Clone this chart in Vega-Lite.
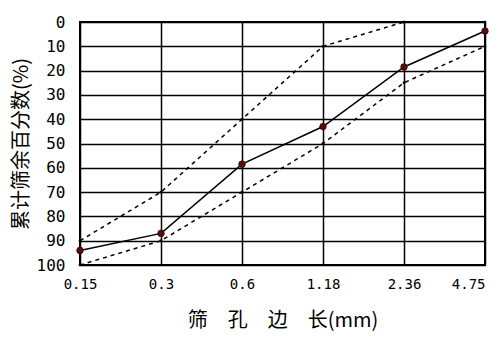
{
  "$schema": "https://vega.github.io/schema/vega-lite/v6.json",
  "width": 405,
  "height": 243,
  "autosize": "none",
  "padding": {"left": 80, "top": 22, "right": 15, "bottom": 73},
  "background": "white",
  "config": {"view": {"stroke": "black", "strokeWidth": 2}},
  "data": {
    "values": [
      {"size": "0.15", "value": 94, "series": "actual"},
      {"size": "0.3", "value": 87, "series": "actual"},
      {"size": "0.6", "value": 58.5, "series": "actual"},
      {"size": "1.18", "value": 43, "series": "actual"},
      {"size": "2.36", "value": 18.5, "series": "actual"},
      {"size": "4.75", "value": 3.7, "series": "actual"},
      {"size": "0.15", "value": 90, "series": "upper"},
      {"size": "0.3", "value": 70, "series": "upper"},
      {"size": "0.6", "value": 40, "series": "upper"},
      {"size": "1.18", "value": 10, "series": "upper"},
      {"size": "2.36", "value": 0, "series": "upper"},
      {"size": "4.75", "value": 0, "series": "upper"},
      {"size": "0.15", "value": 100, "series": "lower"},
      {"size": "0.3", "value": 90, "series": "lower"},
      {"size": "0.6", "value": 70, "series": "lower"},
      {"size": "1.18", "value": 50, "series": "lower"},
      {"size": "2.36", "value": 25, "series": "lower"},
      {"size": "4.75", "value": 10, "series": "lower"}
    ]
  },
  "encoding": {
    "x": {
      "field": "size",
      "type": "ordinal",
      "sort": ["0.15", "0.3", "0.6", "1.18", "2.36", "4.75"],
      "scale": {"type": "point", "padding": 0},
      "axis": {
        "title": "筛　孔　边　长(mm)",
        "labelAngle": 0,
        "labelAlign": {"expr": "datum.label === '4.75' ? 'right' : 'center'"},
        "labelDx": {"expr": "datum.label === '4.75' ? 7 : 0"},
        "domain": false,
        "ticks": false,
        "grid": true,
        "gridColor": "black",
        "gridWidth": 1.5,
        "gridOpacity": 1,
        "labelFont": "DejaVu Sans Mono",
        "labelFontSize": 14,
        "labelColor": "black",
        "labelPadding": 12,
        "titleFont": "Noto Sans CJK SC",
        "titleFontSize": 20,
        "titleFontWeight": "normal",
        "titleColor": "black",
        "titlePadding": 19
      }
    },
    "y": {
      "field": "value",
      "type": "quantitative",
      "scale": {"domain": [0, 100], "reverse": true, "nice": false},
      "axis": {
        "title": "累计筛余百分数(%)",
        "values": [0, 10, 20, 30, 40, 50, 60, 70, 80, 90, 100],
        "domain": false,
        "ticks": false,
        "grid": true,
        "gridColor": "black",
        "gridWidth": 1.5,
        "gridOpacity": 1,
        "labelFont": "DejaVu Sans Mono",
        "labelFontSize": 16,
        "labelColor": "black",
        "labelPadding": 15,
        "titleFont": "Noto Sans CJK SC",
        "titleFontSize": 20,
        "titleFontWeight": "normal",
        "titleColor": "black",
        "titlePadding": 5
      }
    }
  },
  "layer": [
    {
      "transform": [{"filter": "datum.series !== 'actual'"}],
      "mark": {"type": "line", "color": "black", "strokeDash": [4, 4], "strokeWidth": 1.5},
      "encoding": {"detail": {"field": "series"}}
    },
    {
      "transform": [{"filter": "datum.series !== 'actual'"}],
      "mark": {"type": "square", "color": "black", "size": 6, "filled": true, "opacity": 1}
    },
    {
      "transform": [{"filter": "datum.series === 'actual'"}],
      "mark": {"type": "line", "color": "black", "strokeWidth": 1.5}
    },
    {
      "transform": [{"filter": "datum.series === 'actual'"}],
      "mark": {"type": "circle", "color": "#5c0a0a", "size": 45, "opacity": 1, "stroke": "black", "strokeWidth": 0.5}
    }
  ]
}
